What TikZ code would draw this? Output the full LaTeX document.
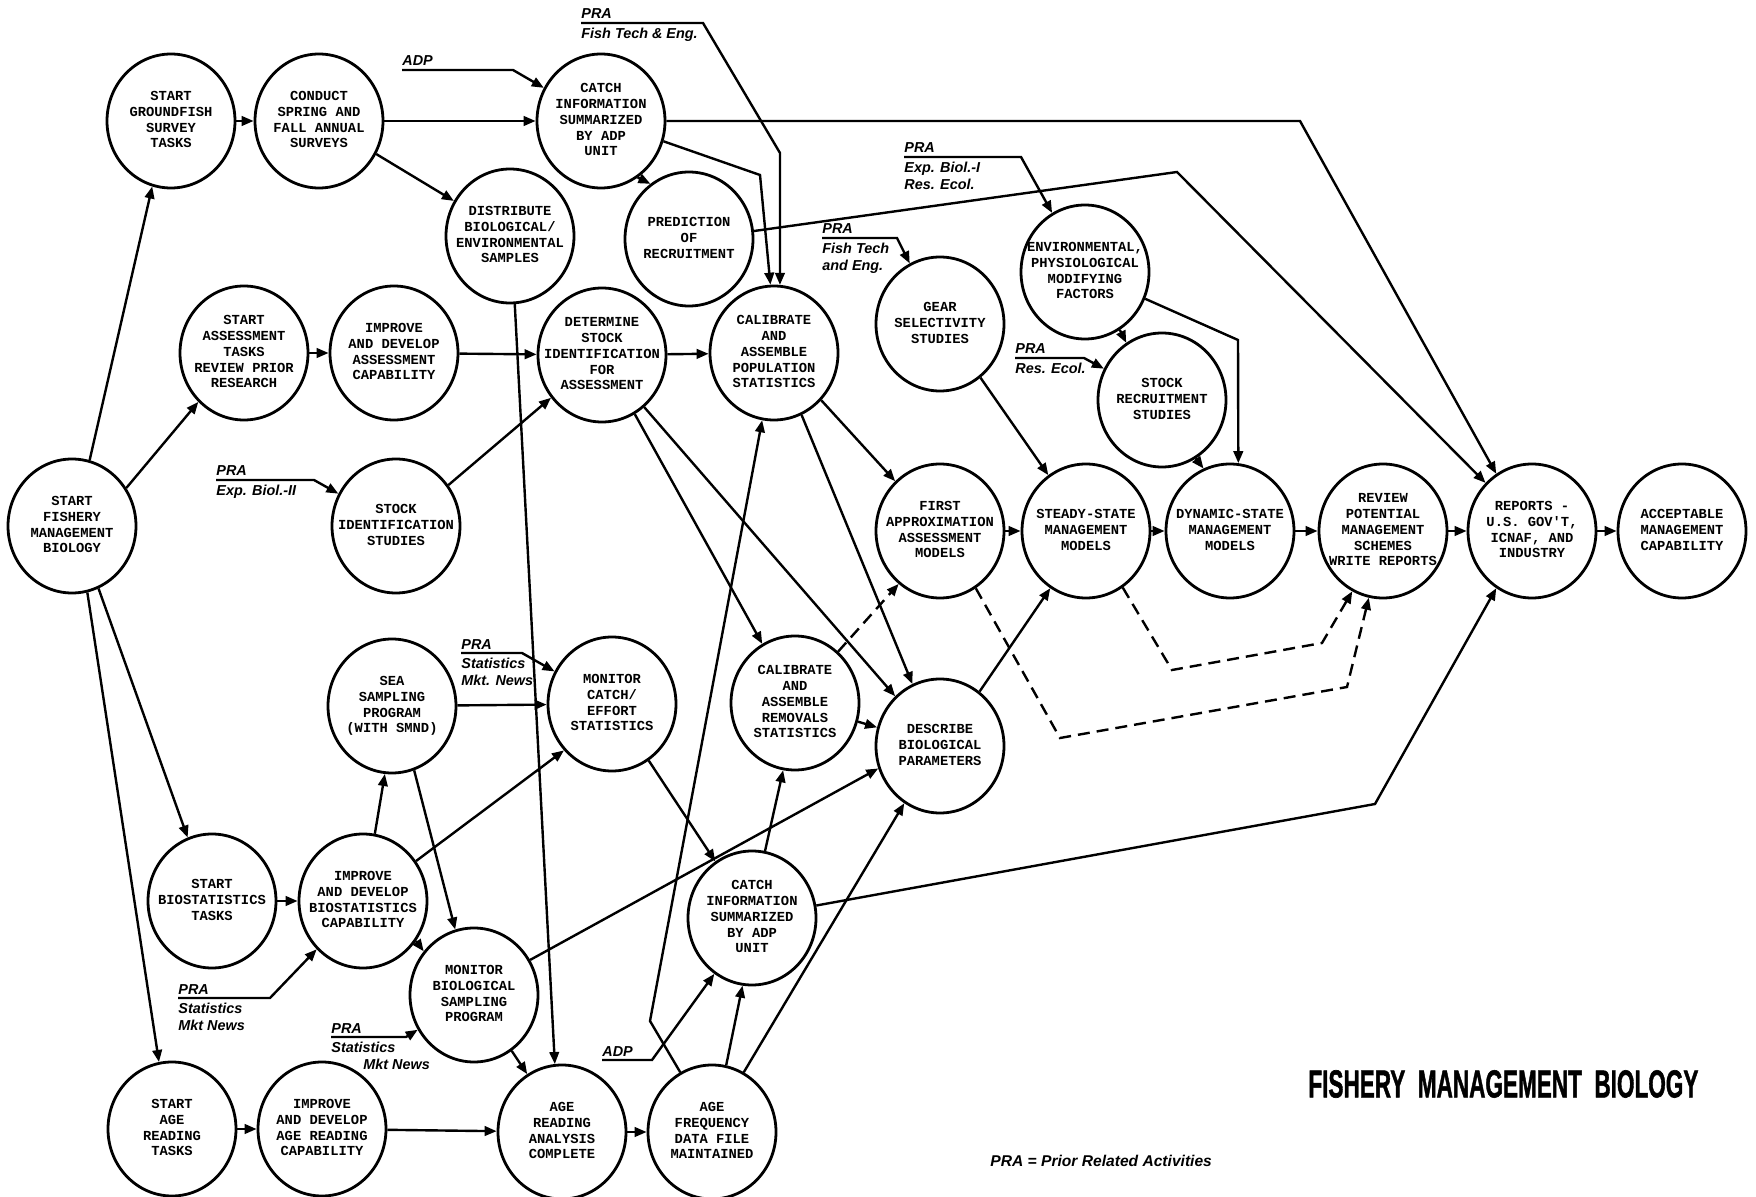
\documentclass[tikz,border=0pt]{standalone}
\usepackage{fontspec}
\usepackage{graphicx}
\setmonofont{Liberation Mono}
\newfontfamily\labfont{Liberation Sans}
\newfontfamily\headfont[FakeBold=1.6]{Liberation Sans}
\usetikzlibrary{shapes.geometric,arrows.meta}

% centred multi-line text that does not enlarge the ellipse
\newcommand\ctr[1]{\smash{\raisebox{-1.8pt}{\makebox[0pt]{\begin{tabular}[c]{@{}c@{}}#1\end{tabular}}}}}

\tikzset{
  act/.style={ellipse, draw, line width=1.4pt, minimum width=64pt, minimum height=67pt,
    inner sep=0pt, font=\ttfamily\bfseries\fontsize{6.9}{7.9}\selectfont},
  arr/.style={-{Triangle[length=6pt,width=4.8pt]}, line width=1.2pt, line join=miter},
  dsh/.style={dash pattern=on 6pt off 3.5pt},
  lab/.style={inner sep=0pt, font=\labfont\bfseries\itshape\fontsize{7.2}{8.2}\selectfont},
}

\begin{document}
\begin{tikzpicture}[x=0.5pt, y=-0.5pt]
\fill[white] (0,0) rectangle (1756,1197);
\useasboundingbox (0,0) rectangle (1756,1197);

% ---- activities ----
\node[act] (sfmb) at (72,526)   {\ctr{START\\FISHERY\\MANAGEMENT\\BIOLOGY}};
\node[act] (sg)   at (171,121)  {\ctr{START\\GROUNDFISH\\SURVEY\\TASKS}};
\node[act] (cs)   at (319,121)  {\ctr{CONDUCT\\SPRING AND\\FALL ANNUAL\\SURVEYS}};
\node[act] (ci1)  at (601,121)  {\ctr{CATCH\\INFORMATION\\SUMMARIZED\\BY ADP\\UNIT}};
\node[act] (db)   at (510,236)  {\ctr{DISTRIBUTE\\BIOLOGICAL/\\ENVIRONMENTAL\\SAMPLES}};
\node[act] (pr)   at (689,239)  {\ctr{PREDICTION\\OF\\RECRUITMENT}};
\node[act] (sa)   at (244,353)  {\ctr{START\\ASSESSMENT\\TASKS\\REVIEW PRIOR\\RESEARCH}};
\node[act] (ia)   at (394,353)  {\ctr{IMPROVE\\AND DEVELOP\\ASSESSMENT\\CAPABILITY}};
\node[act] (ds)   at (602,355)  {\ctr{DETERMINE\\STOCK\\IDENTIFICATION\\FOR\\ASSESSMENT}};
\node[act] (cp)   at (774,353)  {\ctr{CALIBRATE\\AND\\ASSEMBLE\\POPULATION\\STATISTICS}};
\node[act] (gs)   at (940,324)  {\ctr{GEAR\\SELECTIVITY\\STUDIES}};
\node[act] (ep)   at (1085,272) {\ctr{ENVIRONMENTAL,\\PHYSIOLOGICAL\\MODIFYING\\FACTORS}};
\node[act] (sr)   at (1162,400) {\ctr{STOCK\\RECRUITMENT\\STUDIES}};
\node[act] (si)   at (396,526)  {\ctr{STOCK\\IDENTIFICATION\\STUDIES}};
\node[act] (fa)   at (940,531)  {\ctr{FIRST\\APPROXIMATION\\ASSESSMENT\\MODELS}};
\node[act] (ss)   at (1086,531) {\ctr{STEADY-STATE\\MANAGEMENT\\MODELS}};
\node[act] (dy)   at (1230,531) {\ctr{DYNAMIC-STATE\\MANAGEMENT\\MODELS}};
\node[act] (rp)   at (1383,531) {\ctr{REVIEW\\POTENTIAL\\MANAGEMENT\\SCHEMES\\WRITE REPORTS}};
\node[act] (re)   at (1532,531) {\ctr{REPORTS -\\U.S. GOV'T,\\ICNAF, AND\\INDUSTRY}};
\node[act] (ac)   at (1682,531) {\ctr{ACCEPTABLE\\MANAGEMENT\\CAPABILITY}};
\node[act] (se)   at (392,706)  {\ctr{SEA\\SAMPLING\\PROGRAM\\(WITH SMND)}};
\node[act] (mc)   at (612,704)  {\ctr{MONITOR\\CATCH/\\EFFORT\\STATISTICS}};
\node[act] (cr)   at (795,703)  {\ctr{CALIBRATE\\AND\\ASSEMBLE\\REMOVALS\\STATISTICS}};
\node[act] (dbp)  at (940,746)  {\ctr{DESCRIBE\\BIOLOGICAL\\PARAMETERS}};
\node[act] (sb)   at (212,901)  {\ctr{START\\BIOSTATISTICS\\TASKS}};
\node[act] (ib)   at (363,901)  {\ctr{IMPROVE\\AND DEVELOP\\BIOSTATISTICS\\CAPABILITY}};
\node[act] (mb)   at (474,995)  {\ctr{MONITOR\\BIOLOGICAL\\SAMPLING\\PROGRAM}};
\node[act] (ci2)  at (752,918)  {\ctr{CATCH\\INFORMATION\\SUMMARIZED\\BY ADP\\UNIT}};
\node[act] (sar)  at (172,1129) {\ctr{START\\AGE\\READING\\TASKS}};
\node[act] (iar)  at (322,1129) {\ctr{IMPROVE\\AND DEVELOP\\AGE READING\\CAPABILITY}};
\node[act] (ar)   at (562,1132) {\ctr{AGE\\READING\\ANALYSIS\\COMPLETE}};
\node[act] (af)   at (712,1132) {\ctr{AGE\\FREQUENCY\\DATA FILE\\MAINTAINED}};

% ---- prior related activities ----
\node[lab, anchor=base west] (pra1t) at (581,19) {PRA};
\node[lab, anchor=north west, align=left] (pra1d) at (581,28) {Fish Tech \& Eng.};
\coordinate (pra1) at (581,23);

\node[lab, anchor=base west] (adp1t) at (402,66) {ADP};
\coordinate (adp1) at (402,70);

\node[lab, anchor=base west] (pra3t) at (904,153) {PRA};
\node[lab, anchor=north west, align=left] (pra3d) at (904,162) {Exp. Biol.-I\\Res. Ecol.};
\coordinate (pra3) at (904,157);

\node[lab, anchor=base west] (pra4t) at (822,234) {PRA};
\node[lab, anchor=north west, align=left] (pra4d) at (822,243) {Fish Tech\\and Eng.};
\coordinate (pra4) at (822,238);

\node[lab, anchor=base west] (pra5t) at (1015,354) {PRA};
\node[lab, anchor=north west, align=left] (pra5d) at (1015,363) {Res. Ecol.};
\coordinate (pra5) at (1015,358);

\node[lab, anchor=base west] (pra6t) at (216,476) {PRA};
\node[lab, anchor=north west, align=left] (pra6d) at (216,485) {Exp. Biol.-II};
\coordinate (pra6) at (216,480);

\node[lab, anchor=base west] (pra7t) at (461,649) {PRA};
\node[lab, anchor=north west, align=left] (pra7d) at (461,658) {Statistics\\Mkt. News};
\coordinate (pra7) at (461,653);

\node[lab, anchor=base west] (pra8t) at (178,994) {PRA};
\node[lab, anchor=north west, align=left] (pra8d) at (178,1003) {Statistics\\Mkt News};
\coordinate (pra8) at (178,998);

\node[lab, anchor=base west] (pra9t) at (331,1033) {PRA};
\node[lab, anchor=north west, align=left] (pra9d) at (331,1042) {Statistics\\\hspace*{16pt}Mkt News};
\coordinate (pra9) at (331,1037);

\node[lab, anchor=base west] (adp2t) at (602,1056) {ADP};
\coordinate (adp2) at (602,1060);

% ---- legend and title ----
\node[lab, anchor=west, font=\labfont\bfseries\itshape\fontsize{7.8}{9}\selectfont] (legend) at (990,1161) {PRA = Prior Related Activities};
\node[anchor=west, inner sep=0pt] (title) at (1308,1084)
  {\resizebox{195pt}{13.6pt}{\headfont\bfseries FISHERY\ \ MANAGEMENT\ \ BIOLOGY}};

% ---- connectors ----
\draw[arr] (sfmb.75) -- (sg.254);
\draw[arr] (sfmb.35) -- (sa.227);
\draw[arr] (sfmb.293) -- (sb.111);
\draw[arr] (sfmb.283) -- (sar.101);
\draw[arr] (sg) -- (cs);
\draw[arr] (cs) -- (ci1);
\draw[arr] (cs.330) -- (db.148);
\draw[arr] (adp1) -- (513,70) -- (ci1);
\draw[arr] (pra1) -- (703,23) -- (780,153) -- (cp.85);
\draw[arr] (ci1.342) -- (760,175) -- (cp.93);
\draw[arr] (ci1.303) -- (pr.125);
\draw[arr] (ci1.east) -- (1300,121) -- (re.122);
\draw[arr] (pr.7) -- (1177,172) -- (re.134);
\draw[arr] (db.274) -- (ar.96);
\draw[arr] (sa) -- (ia);
\draw[arr] (ia) -- (ds);
\draw[arr] (si.38) -- (ds.220);
\draw[arr] (pra6) -- (314,480) -- (si);
\draw[arr] (ds) -- (cp);
\draw[arr] (ds.299) -- (cr.119);
\draw[arr] (ds.309) -- (dbp.132);
\draw[arr] (cp.315) -- (fa.132);
\draw[arr] (cp.294) -- (dbp.114);
\draw[arr] (af.118) -- (650,1021) -- (cp.260);
\draw[arr] (ci2.79) -- (cr.260);
\draw[arr] (af.78) -- (ci2.262);
\draw[arr] (adp2) -- (652,1060) -- (ci2.236);
\draw[arr] (af.62) -- (dbp.238);
\draw[arr] (ar) -- (af);
\draw[arr] (iar) -- (ar);
\draw[arr] (sar) -- (iar);
\draw[arr] (mb.304) -- (ar.121);
\draw[arr] (sb) -- (ib);
\draw[arr] (ib.80) -- (se.264);
\draw[arr] (ib.37) -- (mc.224);
\draw[arr] (ib.323) -- (mb.139);
\draw[arr] (se.289) -- (mb.106);
\draw[arr] (se) -- (mc);
\draw[arr] (pra7) -- (522,653) -- (mc);
\draw[arr] (pra8) -- (270,998) -- (ib);
\draw[arr] (pra9) -- (406,1037) -- (mb);
\draw[arr] (mb.32) -- (dbp.200);
\draw[arr] (mc.303) -- (ci2.123);
\draw[arr] (ci2.11) -- (1375,804) -- (re.238);
\draw[arr, dsh] (cr.50) -- (fa.232);
\draw[arr] (cr) -- (dbp);
\draw[arr] (dbp.54) -- (ss.238);
\draw[arr] (fa) -- (ss);
\draw[arr] (ss) -- (dy);
\draw[arr] (dy) -- (rp);
\draw[arr] (rp) -- (re);
\draw[arr] (re) -- (ac);
\draw[arr, dsh] (fa.302) -- (1060,738) -- (1347,687) -- (rp.258);
\draw[arr, dsh] (ss.303) -- (1172,670) -- (1322,643) -- (rp.243);
\draw[arr] (gs.307) -- (ss.124);
\draw[arr] (pra4) -- (897,238) -- (gs);
\draw[arr] (pra3) -- (1021,157) -- (ep);
\draw[arr] (ep.301) -- (sr.122);
\draw[arr] (ep.336) -- (1238,340) -- (dy.83);
\draw[arr] (pra5) -- (1084,358) -- (sr);
\draw[arr] (sr.300) -- (dy.113);
\end{tikzpicture}
\end{document}
